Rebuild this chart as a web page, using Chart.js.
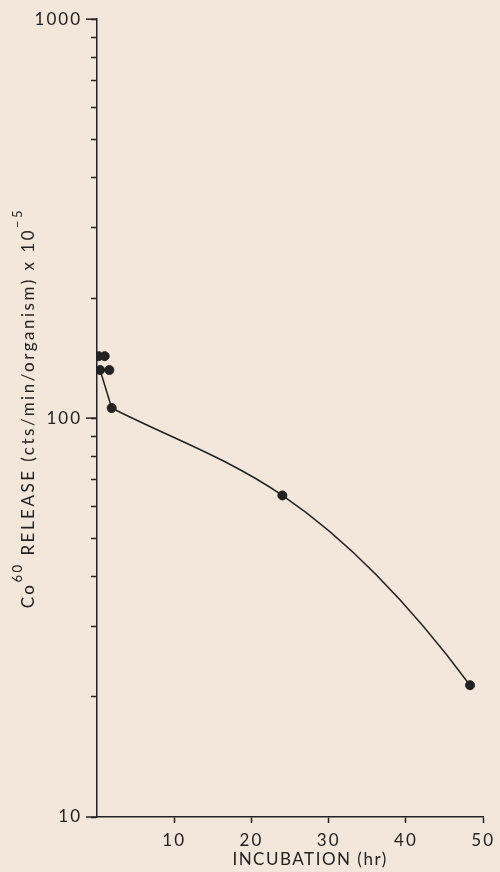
<!DOCTYPE html>
<html>
<head>
<meta charset="utf-8">
<script src="https://cdn.jsdelivr.net/npm/chart.js@4.4.0/dist/chart.umd.min.js"></script>
<style>
    html, body { margin: 0; padding: 0; background: #f3e6da; }
    #wrap { width: 500px; height: 872px; }
</style>
</head>
<body>
<div id="wrap"><canvas id="releaseChart"></canvas></div>
<script>
// Co60 release vs incubation time
const pointHours   = [0.2, 1, 0.4, 1.6, 1.9, 24, 48.3];
const pointRelease = [143, 143, 132, 132, 106, 64, 21.4];

// drawn line: straight start, then smooth curve
const startHours   = [0.4, 1.9];
const startRelease = [132, 106];
const curveHours   = [1.9, 24, 48.3];
const curveRelease = [106, 64, 21.4];

const xTicks = [10, 20, 30, 40, 50];
const yMajorTicks = [10, 100, 1000];
const yMinorSteps = [2, 3, 4, 5, 6, 7, 8, 9];

const xTitle = 'INCUBATION (hr)';
// title pieces, sup = raised superscript
const yTitle = [
    { text: 'Co', sup: false },
    { text: '60', sup: true },
    { text: ' RELEASE (cts/min/organism) x 10', sup: false },
    { text: '−5', sup: true }
];

const ink = '#222';
const fontFamily = 'Lato, "DejaVu Sans", sans-serif';

const yTickValues = [];
yMajorTicks.forEach(m => {
    yTickValues.push(m);
    if (m < 1000) yMinorSteps.forEach(s => yTickValues.push(m * s));
});

const toXY = (xs, ys) => xs.map((x, i) => ({ x: x, y: ys[i] }));

// hand-drawn look: the curve keeps steepening up to its last point
const curveShapePlugin = {
    id: 'curveShape',
    beforeDatasetDraw(chart, args) {
        if (args.index !== 2) return;
        const line = args.meta.dataset;
        line.updateControlPoints(chart.chartArea, 'x');
        const pts = args.meta.data;
        const n = pts.length;
        const s = [];
        for (let i = 0; i < n - 1; i++) {
            s.push((pts[i + 1].y - pts[i].y) / (pts[i + 1].x - pts[i].x));
        }
        const m = [s[0]];
        for (let i = 1; i < n - 1; i++) {
            m.push(2 * s[i - 1] * s[i] / (s[i - 1] + s[i]));
        }
        m.push(2 * s[n - 2] - m[n - 2]);
        pts.forEach((p, i) => {
            if (i > 0) {
                const d = (p.x - pts[i - 1].x) / 3;
                p.cp1x = p.x - d;
                p.cp1y = p.y - m[i] * d;
            }
            if (i < n - 1) {
                const d = (pts[i + 1].x - p.x) / 3;
                p.cp2x = p.x + d;
                p.cp2y = p.y + m[i] * d;
            }
        });
    }
};

// longer ticks at the decades + axis titles
const axisExtrasPlugin = {
    id: 'axisExtras',
    beforeDraw(chart) {
        chart.ctx.letterSpacing = '2px';
    },
    afterDraw(chart) {
        const y = chart.scales.y;
        const area = chart.chartArea;
        const ctx = chart.ctx;
        ctx.save();
        ctx.strokeStyle = ink;
        ctx.lineWidth = 1.5;
        yMajorTicks.forEach(v => {
            const py = y.getPixelForValue(v);
            ctx.beginPath();
            ctx.moveTo(y.right - 11, py);
            ctx.lineTo(y.right, py);
            ctx.stroke();
        });

        ctx.fillStyle = ink;
        ctx.textBaseline = 'middle';

        // x title
        ctx.letterSpacing = '1.5px';
        ctx.font = '17px ' + fontFamily;
        ctx.textAlign = 'center';
        ctx.fillText(xTitle, (area.left + area.right) / 2 + 20, 860);

        // y title, rotated, with superscripts
        ctx.textAlign = 'left';
        ctx.letterSpacing = '2.5px';
        const mainFont = '17px ' + fontFamily;
        const supFont = '13px ' + fontFamily;
        let total = 0;
        yTitle.forEach(p => {
            ctx.font = p.sup ? supFont : mainFont;
            p.w = ctx.measureText(p.text).width;
            total += p.w;
        });
        const cy = (area.top + area.bottom) / 2 - 10;
        ctx.translate(29, cy + total / 2);
        ctx.rotate(-Math.PI / 2);
        let pos = 0;
        yTitle.forEach(p => {
            ctx.font = p.sup ? supFont : mainFont;
            ctx.fillText(p.text, pos, p.sup ? -11 : 0);
            pos += p.w;
        });
        ctx.restore();
    }
};

const ctx = document.getElementById('releaseChart');

new Chart(ctx, {
    type: 'scatter',
    data: {
        datasets: [
            {
                label: 'points',
                data: toXY(pointHours, pointRelease),
                backgroundColor: ink,
                borderColor: ink,
                pointRadius: 4.5,
                showLine: false
            },
            {
                label: 'start',
                data: toXY(startHours, startRelease),
                borderColor: ink,
                borderWidth: 1.5,
                pointRadius: 0,
                showLine: true,
                tension: 0
            },
            {
                label: 'curve',
                data: toXY(curveHours, curveRelease),
                borderColor: ink,
                borderWidth: 1.5,
                pointRadius: 0,
                showLine: true,
                tension: 0.4
            }
        ]
    },
    options: {
        responsive: true,
        maintainAspectRatio: false,
        animation: false,
        layout: { padding: { top: 19, right: 15, left: 0, bottom: 0 } },
        plugins: {
            legend: { display: false },
            tooltip: { enabled: false }
        },
        scales: {
            x: {
                type: 'linear',
                min: 0,
                max: 50,
                afterBuildTicks: scale => {
                    scale.ticks = xTicks.map(v => ({ value: v }));
                },
                afterFit: scale => { scale.height = 55; },
                grid: { drawOnChartArea: false, tickLength: 6, tickWidth: 1.5, tickColor: ink },
                border: { display: true, color: ink, width: 1.5 },
                ticks: {
                    color: ink,
                    padding: 7,
                    maxRotation: 0,
                    autoSkip: false,
                    font: { family: fontFamily, size: 17 }
                },
                title: { display: false }
            },
            y: {
                type: 'logarithmic',
                min: 10,
                max: 1000,
                afterBuildTicks: scale => {
                    scale.ticks = yTickValues.map(v => ({ value: v, major: yMajorTicks.includes(v) }));
                },
                afterFit: scale => { scale.width = 97; },
                grid: { drawOnChartArea: false, tickLength: 6, tickWidth: 1.5, tickColor: ink },
                border: { display: true, color: ink, width: 1.5 },
                ticks: {
                    color: ink,
                    padding: 9,
                    autoSkip: false,
                    font: { family: fontFamily, size: 17 },
                    callback: value => yMajorTicks.includes(value) ? String(value) : ''
                },
                title: { display: false }
            }
        }
    },
    plugins: [curveShapePlugin, axisExtrasPlugin]
});
</script>
</body>
</html>
